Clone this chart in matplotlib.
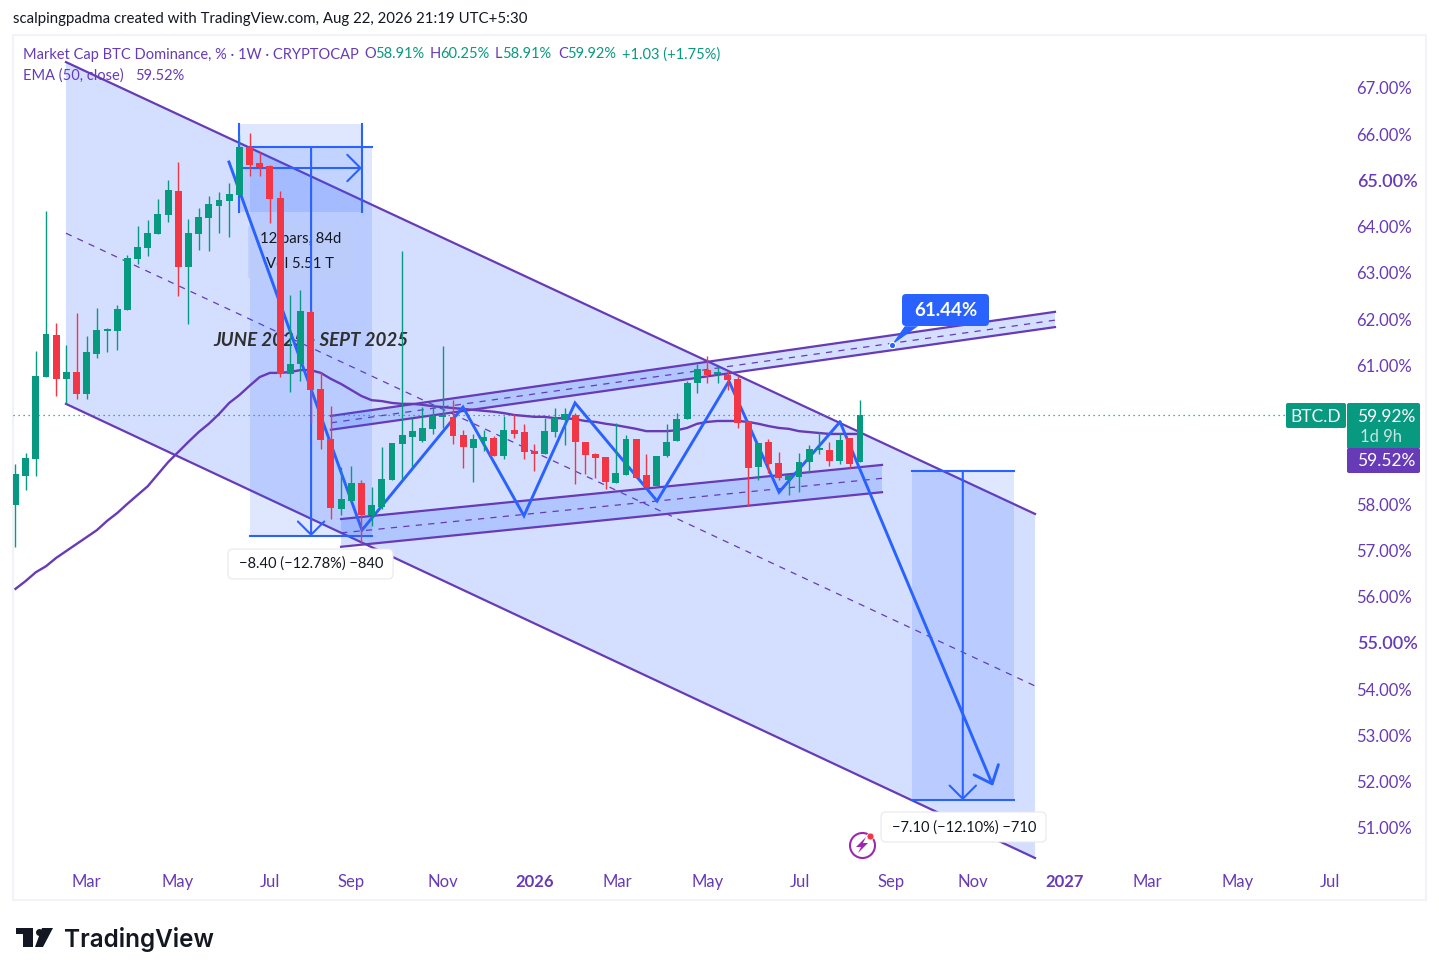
import matplotlib
matplotlib.use('Agg')
import matplotlib.pyplot as plt
import numpy as np
from matplotlib.patches import FancyBboxPatch, Polygon, Rectangle
from matplotlib.lines import Line2D
from matplotlib.transforms import Affine2D

plt.rcParams['font.family'] = ['Lato', 'DejaVu Sans']

GREEN = '#089981'
RED = '#f23645'
PURPLE = '#673ab7'
BLUE = '#2962ff'
DARK = '#131722'

# weekly candles
opens = [57.98, 58.62, 58.98, 60.76, 61.66, 60.71, 60.86, 60.38, 61.25, 61.75, 61.75, 62.20,
         63.30, 63.54, 63.84, 64.25, 64.77, 63.13, 63.84, 64.19, 64.45, 64.56, 64.69, 65.72,
         65.38, 65.31, 64.62, 60.82, 61.03, 62.16, 60.49, 59.41, 57.90, 58.07, 58.46, 57.77,
         57.95, 58.52, 59.30, 59.45, 59.37, 59.63, 59.89, 59.89, 59.50, 59.22, 59.37, 59.43,
         59.04, 59.60, 59.56, 59.15, 59.09, 59.56, 59.82, 59.93, 59.35, 59.09, 59.02, 58.46,
         58.63, 59.41, 58.63, 58.39, 59.04, 59.37, 59.84, 60.62, 60.90, 60.82, 60.79, 60.71,
         59.80, 58.80, 59.35, 58.89, 58.52, 58.59, 58.91, 59.18, 59.17, 58.93, 59.43, 58.91]
closes = [58.65, 59.00, 60.77, 61.68, 60.71, 60.86, 60.38, 61.29, 61.77, 61.79, 62.22, 63.32,
          63.56, 63.87, 64.28, 64.79, 63.13, 63.87, 64.21, 64.49, 64.58, 64.71, 65.72, 65.34,
          65.29, 64.60, 60.82, 61.03, 62.18, 60.47, 59.39, 57.92, 58.11, 58.46, 57.77, 57.98,
          58.55, 59.32, 59.50, 59.58, 59.65, 59.91, 59.91, 59.47, 59.24, 59.41, 59.45, 59.04,
          59.60, 59.52, 59.13, 59.09, 59.58, 59.86, 59.95, 59.35, 59.06, 59.00, 58.48, 58.68,
          59.41, 58.57, 58.37, 59.04, 59.35, 59.84, 60.62, 60.92, 60.79, 60.84, 60.69, 59.76,
          58.78, 59.32, 58.87, 58.57, 58.63, 58.91, 59.19, 59.19, 58.93, 59.39, 58.87, 59.92]
highs = [58.88, 59.10, 61.31, 64.34, 61.92, 61.44, 62.13, 61.64, 62.24, 61.82, 62.31, 63.39,
         64.02, 64.15, 64.60, 65.01, 65.40, 64.17, 64.41, 64.66, 64.75, 64.95, 65.98, 66.03,
         65.62, 65.33, 64.77, 62.52, 62.63, 62.20, 60.86, 60.12, 58.81, 58.83, 58.52, 58.37,
         59.24, 59.32, 63.48, 59.86, 60.11, 60.17, 61.42, 60.25, 59.60, 59.52, 59.60, 59.47,
         59.91, 59.95, 59.73, 59.30, 59.86, 60.08, 60.08, 59.97, 59.35, 59.11, 59.02, 59.75,
         59.50, 59.41, 59.09, 59.04, 59.73, 59.97, 60.66, 61.03, 61.20, 60.97, 60.88, 60.77,
         59.80, 59.32, 59.41, 59.13, 58.65, 59.11, 59.28, 59.56, 59.35, 59.54, 59.43, 60.25]
lows = [57.08, 58.31, 58.62, 60.76, 60.34, 60.18, 60.28, 60.28, 61.16, 61.29, 61.33, 62.20,
        63.19, 63.37, 63.84, 64.10, 62.50, 61.90, 63.50, 63.48, 63.87, 63.78, 64.69, 65.10,
        65.10, 64.08, 60.75, 60.43, 60.66, 59.76, 59.19, 57.68, 57.77, 58.07, 57.14, 57.53,
        57.90, 58.52, 58.55, 58.81, 59.35, 59.52, 59.65, 59.30, 58.78, 58.48, 59.15, 59.04,
        58.98, 59.43, 58.98, 58.72, 59.09, 59.45, 59.28, 58.44, 58.65, 58.57, 58.33, 58.46,
        58.63, 58.57, 58.37, 58.39, 59.02, 59.37, 59.84, 60.40, 60.62, 60.62, 60.47, 59.65,
        57.96, 58.52, 58.68, 58.52, 58.20, 58.26, 58.68, 59.09, 58.83, 58.87, 58.78, 58.91]
ema50 = [56.17, 56.34, 56.53, 56.66, 56.84, 56.99, 57.14, 57.29, 57.44, 57.64, 57.81, 58.01,
         58.20, 58.39, 58.65, 58.91, 59.13, 59.35, 59.56, 59.74, 59.95, 60.19, 60.36, 60.56,
         60.75, 60.84, 60.84, 60.86, 60.90, 60.90, 60.84, 60.71, 60.60, 60.47, 60.34, 60.25,
         60.23, 60.19, 60.17, 60.17, 60.15, 60.12, 60.10, 60.08, 60.06, 60.04, 60.02, 60.00,
         59.97, 59.93, 59.91, 59.89, 59.89, 59.86, 59.86, 59.84, 59.80, 59.78, 59.74, 59.71,
         59.67, 59.63, 59.58, 59.58, 59.58, 59.60, 59.65, 59.74, 59.78, 59.80, 59.80, 59.80,
         59.78, 59.74, 59.69, 59.65, 59.63, 59.58, 59.56, 59.54, 59.52, 59.52, 59.52, 59.52]

# 59 and 60 sit behind the price tags in the reference
y_ticks = [51, 52, 53, 54, 55, 56, 57, 58, 61, 62, 63, 64, 65, 66, 67]
big_y_ticks = [55, 65]
x_tick_bars = [6.93, 15.97, 25.0, 32.97, 42.01, 51.06, 59.12, 68.06, 77.1, 86.04, 94.1, 103.15, 111.2, 120.15, 129.19]
x_tick_labels = ['Mar', 'May', 'Jul', 'Sep', 'Nov', '2026', 'Mar', 'May', 'Jul', 'Sep', 'Nov', '2027', 'Mar', 'May', 'Jul']

# drawings, in (bar, price)
big_top = [(4.96, 67.56), (100.2, 57.79)]
big_mid = [(4.96, 63.86), (100.2, 54.07)]
big_bottom = [(4.96, 60.17), (100.2, 50.35)]
up_top = [(31.0, 59.91), (102.16, 62.16)]
up_mid = [(31.0, 59.76), (102.16, 61.98)]
up_bottom = [(31.0, 59.61), (102.16, 61.83)]
low_top = [(32.0, 57.68), (85.16, 58.85)]
low_mid = [(32.0, 57.38), (85.16, 58.56)]
low_bottom = [(32.0, 57.08), (85.16, 58.26)]
zigzag = [(20.98, 65.40), (34.05, 57.44), (43.98, 60.10), (49.97, 57.75), (54.99, 60.19), (63.05, 58.07),
          (70.12, 60.66), (75.04, 58.26), (81.03, 59.78), (96.07, 51.91)]

last_close = 59.92
ema_last = 59.52

fig = plt.figure(figsize=(14.39, 9.76), dpi=100, facecolor='white')
ax = fig.add_axes([13 / 1439, 1 - 862 / 976, (1347 - 13) / 1439, (862 - 35) / 976])
ax.set_xlim(-0.2457, 130.86)
ax.set_ylim(50.264, 68.146)
for s in ax.spines.values():
  s.set_visible(False)
ax.patch.set_alpha(0)

# pixel coords for the chrome around the chart
PX = Affine2D().scale(1, -1).translate(0, 976)

def channel(top, mid, bottom, z):
  ax.add_patch(Polygon(top + bottom[::-1], closed=True, fc=BLUE, alpha=0.2, ec='none', zorder=z))
  ax.plot(*zip(*top), color=PURPLE, lw=1.6, zorder=z + 0.1)
  ax.plot(*zip(*bottom), color=PURPLE, lw=1.6, zorder=z + 0.1)
  ax.plot(*zip(*mid), color=PURPLE, lw=0.9, ls=(0, (5, 5)), zorder=z + 0.1)

def arrow(a, b, z=3.2):
  ax.annotate('', xy=b, xytext=a, zorder=z, arrowprops=dict(
    arrowstyle='->,head_length=0.95,head_width=0.95', color=BLUE, lw=1.5,
    shrinkA=0, shrinkB=0, mutation_scale=10))

def rbox(x0, y0, x1, y1, fc, r=4, ec='none', alpha=1, z=10, where=None):
  p = FancyBboxPatch((x0 + r, y0 + r), x1 - x0 - 2 * r, y1 - y0 - 2 * r,
    boxstyle=f'round,pad={r},rounding_size={r}', fc=fc, ec=ec, alpha=alpha, lw=0.8, transform=PX, zorder=z)
  if where is None:
    fig.add_artist(p)
  else:
    where.add_patch(p)

channel(big_top, big_mid, big_bottom, 1)
channel(up_top, up_mid, up_bottom, 1.3)
channel(low_top, low_mid, low_bottom, 1.3)

# date and price range boxes
ax.add_patch(Rectangle((21.96, 64.32), 34.05 - 21.96, 66.22 - 64.32, fc=BLUE, alpha=0.15, ec='none', zorder=1.5))
ax.add_patch(Rectangle((23.0, 57.31), 35.04 - 23.0, 65.72 - 57.31, fc=BLUE, alpha=0.15, ec='none', zorder=1.5))
ax.add_patch(Rectangle((88.1, 51.60), 98.1 - 88.1, 58.72 - 51.60, fc=BLUE, alpha=0.15, ec='none', zorder=1.5))
for bar in [21.96, 34.05]:
  ax.plot([bar, bar], [64.32, 66.22], color=BLUE, lw=1.5, zorder=3)
for price in [65.72, 57.31]:
  ax.plot([23.0, 35.04], [price, price], color=BLUE, lw=1.5, zorder=3)
for price in [58.72, 51.60]:
  ax.plot([88.1, 98.1], [price, price], color=BLUE, lw=1.5, zorder=3)
arrow((21.96, 65.27), (34.05, 65.27))
arrow((29.05, 65.72), (29.05, 57.31))
arrow((93.1, 58.72), (93.1, 51.60))

# tooltip sits under the candles
rbox(248, 224, 353, 280, '#bccdfa', r=5, alpha=0.8, z=1.7, where=ax)
ax.text(300.5, 239, '12 bars, 84d', transform=PX, ha='center', va='center', fontsize=10.7, color=DARK, zorder=1.8)
ax.text(300.5, 264, 'Vol 5.51 T', transform=PX, ha='center', va='center', fontsize=10.7, color=DARK, zorder=1.8)
ax.text(311, 341, 'JUNE 2025 - SEPT 2025', transform=PX, ha='center', va='center', fontsize=13.5,
        fontweight='bold', fontstyle='italic', color='#2f2f2f', zorder=1.8)

ax.plot(range(len(ema50)), ema50, color=PURPLE, lw=1.7, zorder=2.5)

ax.axhline(last_close, color=GREEN, lw=0.9, ls=(0, (1, 3)), zorder=2)

zx = [p[0] for p in zigzag[:-1]]
zy = [p[1] for p in zigzag[:-1]]
ax.plot(zx, zy, color=BLUE, lw=2.1, zorder=3, solid_joinstyle='miter')
ax.annotate('', xy=zigzag[-1], xytext=zigzag[-2], zorder=3, arrowprops=dict(
  arrowstyle='->,head_length=1.1,head_width=0.95', color=BLUE, lw=2.1, shrinkA=0, shrinkB=0, mutation_scale=10))

# candles
xs = np.arange(len(opens))
opens_a, closes_a = np.array(opens), np.array(closes)
colors = [GREEN if c >= o else RED for o, c in zip(opens, closes)]
ax.vlines(xs, lows, highs, colors=colors, lw=1.0, zorder=4)
ax.bar(xs, np.maximum(np.abs(closes_a - opens_a), 0.03), bottom=np.minimum(opens_a, closes_a),
       width=0.68, color=colors, zorder=4.1)

# 61.44% callout
ax.add_patch(Polygon([(86.1, 61.44), (87.4, 61.85), (88.7, 61.85)], fc=BLUE, ec='none', zorder=5))
ax.plot([86.1], [61.44], 'o', ms=4.5, color=BLUE, mec='white', mew=0.8, zorder=5.2)
rbox(902, 294, 989, 326, BLUE, r=4, z=5, where=ax)
ax.text(945.5, 310, '61.44%', transform=PX, ha='center', va='center', color='white', fontsize=13.5,
        fontweight='bold', zorder=5.1)

# axes labels
ax.yaxis.tick_right()
ax.set_yticks(y_ticks)
ax.set_yticklabels([f'{t:.2f}%' for t in y_ticks])
ax.tick_params(axis='y', length=0, pad=46.5, labelcolor=PURPLE, labelsize=12)
for t, tick in zip(y_ticks, ax.yaxis.get_major_ticks()):
  lab = tick.label2
  lab.set_ha('right')
  if t in big_y_ticks:
    tick.set_pad(50.8)
    lab.set_fontsize(13)
    lab.set_fontweight('semibold')
ax.set_xticks(x_tick_bars)
ax.set_xticklabels(x_tick_labels)
ax.tick_params(axis='x', length=0, pad=8.5, labelcolor=PURPLE, labelsize=12)
for lab in ax.get_xticklabels():
  if lab.get_text().startswith('20'):
    lab.set_fontweight('bold')

# frame of the pane
fig.add_artist(Rectangle((13, 35), 1413, 865, fc='none', ec='#f0f3fa', lw=1.5, transform=PX, zorder=-1))

def t(x, y, s, color=DARK, size=10.5, ha='left', weight='normal', z=12, family=None):
  fig.text(x, y, s, transform=PX, color=color, fontsize=size, ha=ha, va='center', fontweight=weight, zorder=z,
           family=family or ['Lato', 'DejaVu Sans'])

t(13, 19.5, 'scalpingpadma created with TradingView.com, Aug 22, 2026 21:19 UTC+5:30', size=10.85)
t(23, 54.5, 'Market Cap BTC Dominance, % · 1W · CRYPTOCAP', PURPLE)
for x, s, c in [(364, 'O', PURPLE), (375, '58.91%', GREEN), (430, 'H', PURPLE), (440, '60.25%', GREEN),
                (495, 'L', PURPLE), (502, '58.91%', GREEN), (558, 'C', PURPLE), (567, '59.92%', GREEN),
                (622, '+1.03 (+1.75%)', GREEN)]:
  t(x, 54.5, s, c)
t(23, 75.5, 'EMA (50, close)', PURPLE)
t(135, 75.5, '59.52%', PURPLE)

# white measure labels
rbox(228, 549, 393, 579, 'white', r=5, ec='#e6e8ee')
t(311, 564, '−8.40 (−12.78%) −840', ha='center', size=10.5)
rbox(881, 812, 1046, 842, 'white', r=5, ec='#e6e8ee')
t(964, 828, '−7.10 (−12.10%) −710', ha='center', size=10.5)

# price tags on the right
rbox(1286, 403, 1346, 428, GREEN, r=2)
t(1316, 416.5, 'BTC.D', 'white', 12.5, 'center')
rbox(1347, 403, 1420, 449, GREEN, r=2)
t(1386, 417, '59.92%', 'white', 12.5, 'center')
t(1381, 437, '1d 9h', '#c4e6df', 12, 'center')
rbox(1347, 448, 1420, 473, PURPLE, r=2)
t(1386, 461.5, '59.52%', 'white', 12.5, 'center')

# bolt icon
fig.add_artist(Line2D([862], [845], marker='o', ms=18, mfc='none', mec='#9c27b0', mew=1.5, transform=PX, zorder=11))
fig.add_artist(Polygon([(866, 837), (856, 847), (861, 847), (858, 853), (868, 843), (863, 843)], fc='#9c27b0', ec='none', transform=PX, zorder=11))
fig.add_artist(Line2D([870], [836], marker='o', ms=5, mfc=RED, mec='white', mew=0.5, transform=PX, zorder=12))

# logo
fig.add_artist(Polygon([(16, 928), (33, 928), (33, 947), (23, 947), (23, 934), (16, 934)], fc=DARK, ec='none', transform=PX))
fig.add_artist(Line2D([39], [932], marker='o', ms=5, mfc=DARK, mec='none', transform=PX))
fig.add_artist(Polygon([(42, 928), (53, 928), (43, 947), (35, 947)], fc=DARK, ec='none', transform=PX))
t(64, 939, 'TradingView', DARK, 17.5, weight='semibold', family=['Inter', 'DejaVu Sans'])

fig.savefig('out.png', dpi=100)
